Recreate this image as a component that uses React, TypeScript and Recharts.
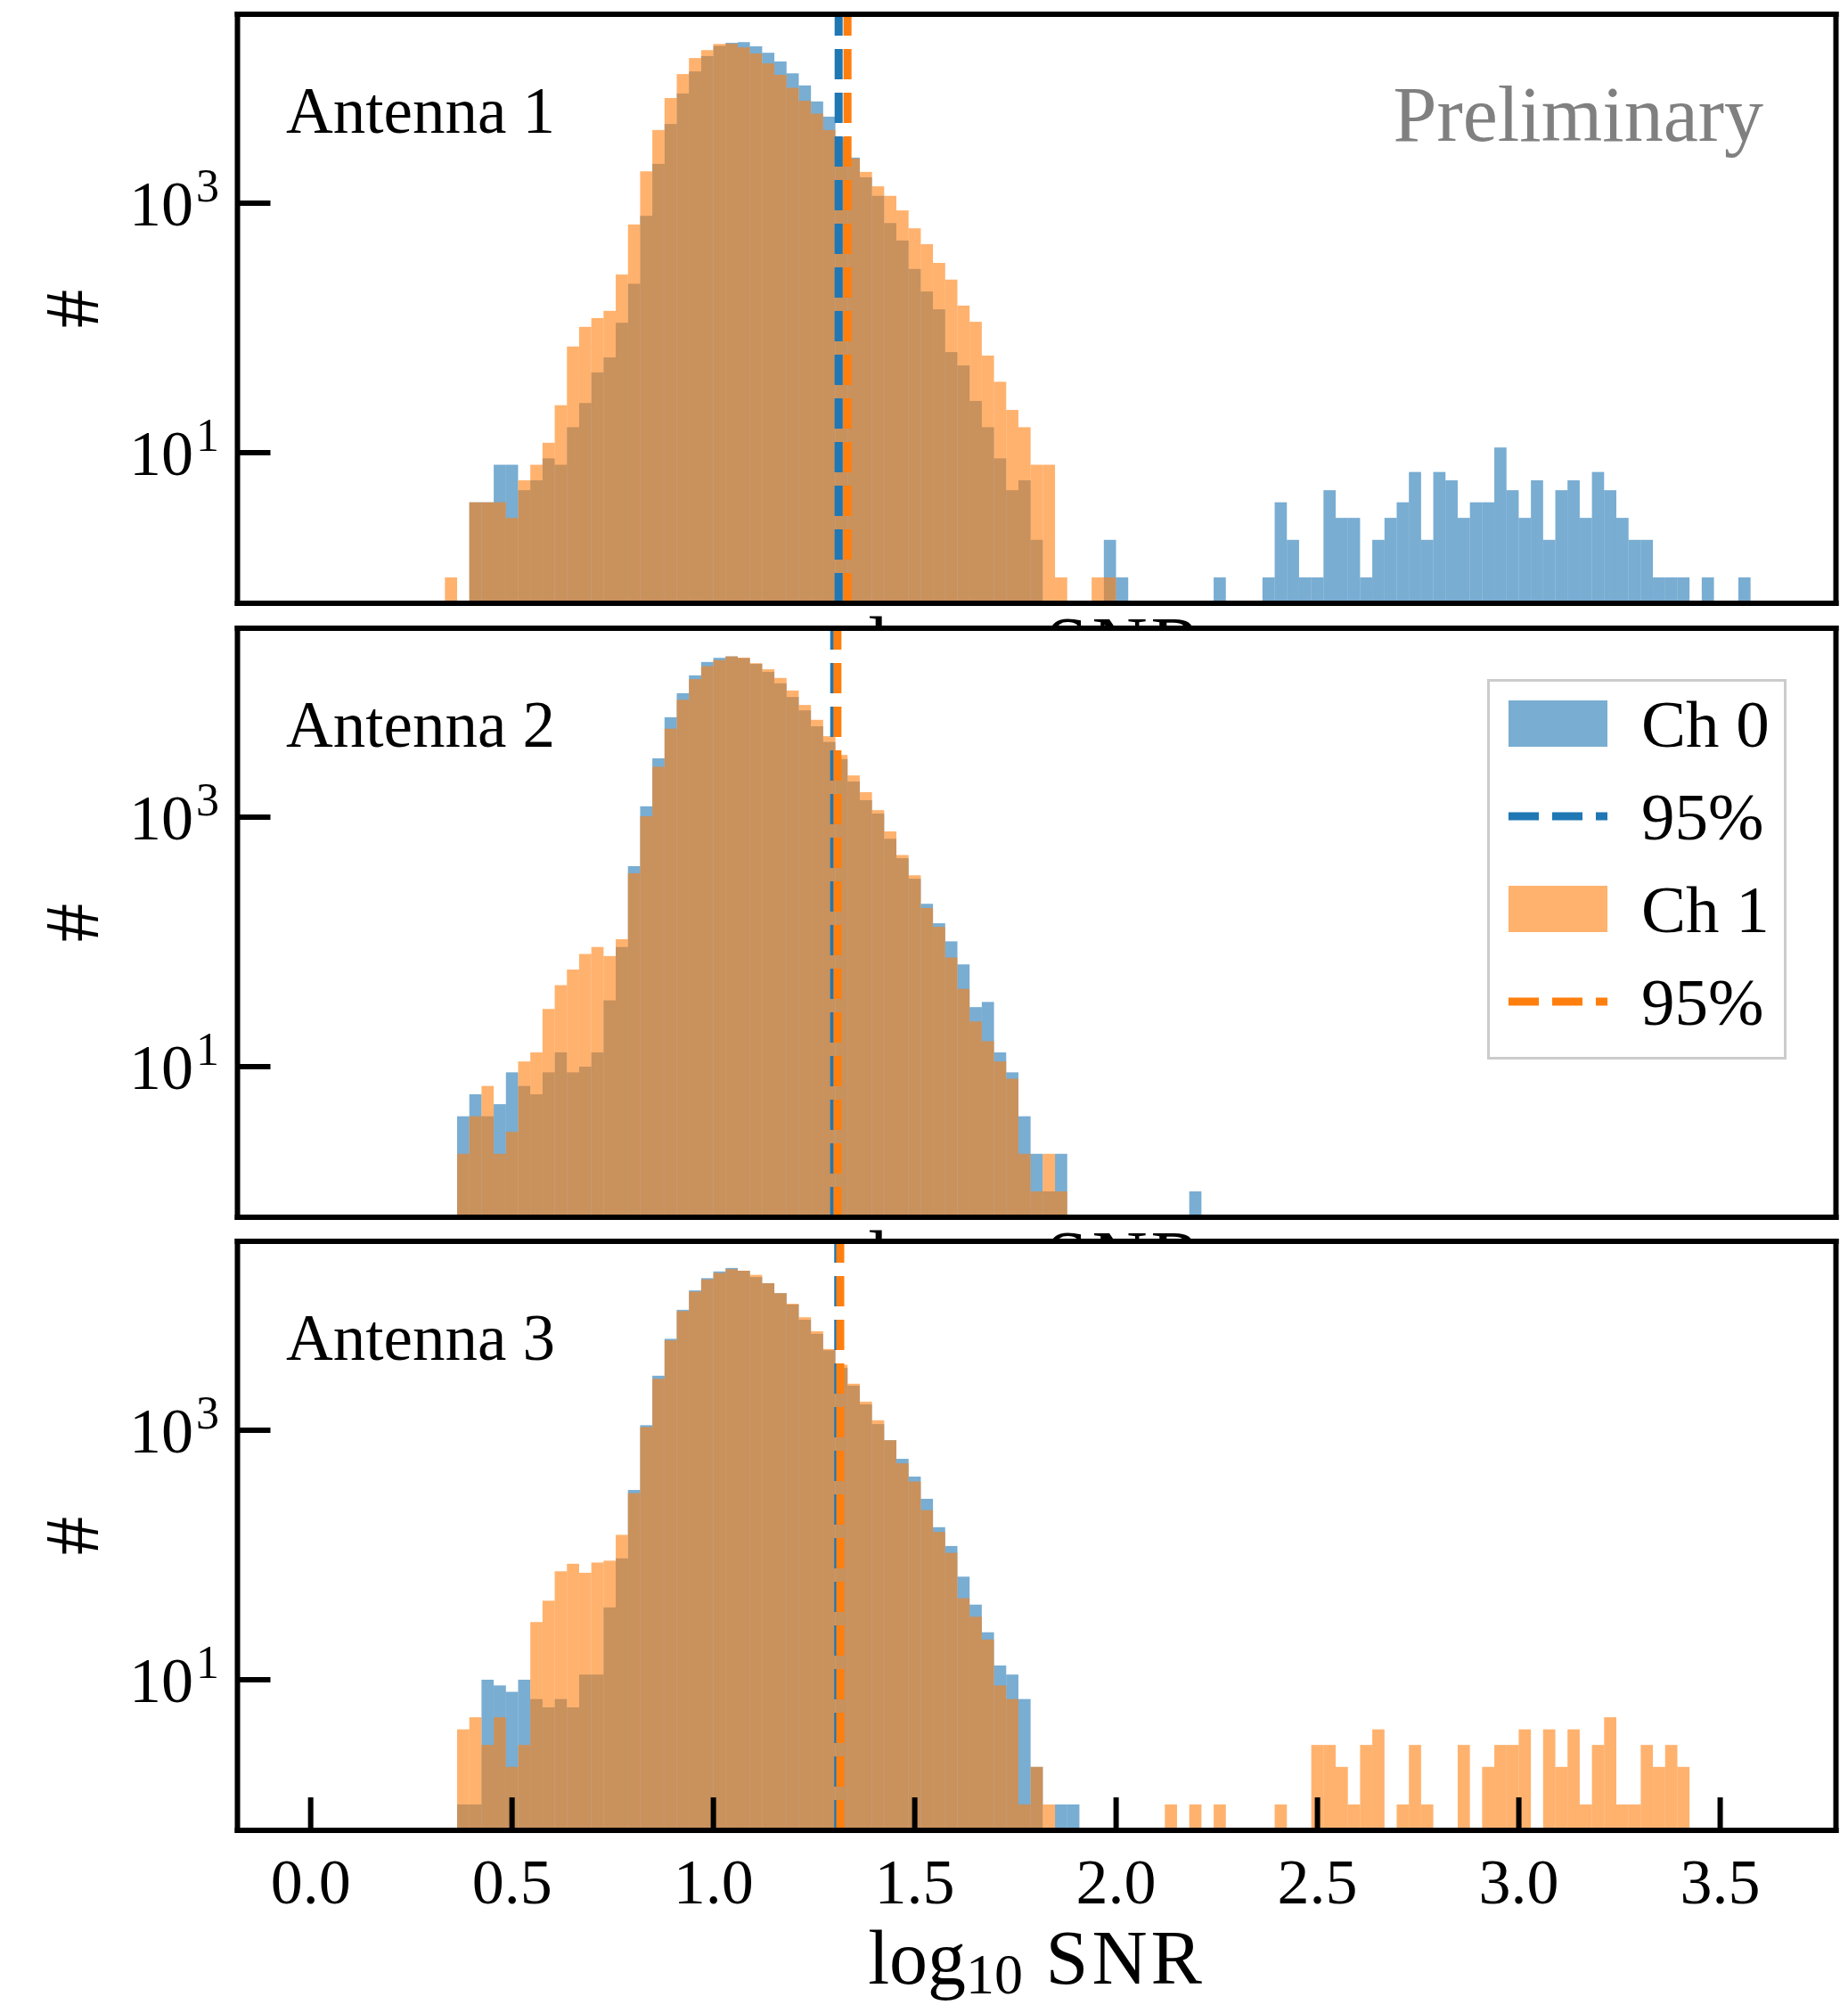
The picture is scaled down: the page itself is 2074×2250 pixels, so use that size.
import React from 'react';
import { ComposedChart, Bar, XAxis, YAxis, ReferenceLine, CartesianGrid, Legend } from 'recharts';

// ---------------------------------------------------------------------------
// Histogram data: counts per log10(SNR) bin. Bin k covers [k*BIN_WIDTH, (k+1)*BIN_WIDTH).
// Every count array starts at bin FIRST_BIN.
// ---------------------------------------------------------------------------
const BIN_WIDTH = 0.0303;
const FIRST_BIN = 11;
const AXIS_FIRST_BIN = -6;
const AXIS_LAST_BIN = 124;

const xTickValues = [0, 0.5, 1, 1.5, 2, 2.5, 3, 3.5];
const yTickValues = [10, 1000];
const panelTitles = ['Antenna 1', 'Antenna 2', 'Antenna 3'];
const channelNames = ['Ch 0', 'Ch 1'];
const quantileLabel = '95%';
const watermark = 'Preliminary';

// Antenna 1
const ant1Ch0 = [
  0, 0, 4, 4, 8, 8, 5, 6, 9, 8,
  16, 25, 44, 58, 110, 226, 792, 2066, 4315, 7570,
  11380, 15100, 18240, 19300, 19550, 18100, 16070, 13670, 10990, 8790,
  6540, 4940, 3400, 2320, 1614, 1145, 693, 502, 297, 196,
  141, 64, 50, 26, 16, 9, 5, 6, 2, 0,
  0, 0, 0, 0, 2, 1, 0, 0, 0, 0,
  0, 0, 0, 1, 0, 0, 0, 1, 4, 2,
  1, 1, 5, 3, 3, 1, 2, 3, 4, 7,
  2, 7, 6, 3, 4, 4, 11, 5, 3, 6,
  2, 5, 6, 3, 7, 5, 3, 2, 2, 1,
  1, 1, 0, 1, 0, 0, 1,
];
const ant1Ch1 = [
  1, 0, 4, 4, 4, 3, 6, 8, 12, 24,
  71, 102, 120, 137, 268, 675, 1800, 3860, 6966, 10840,
  14580, 16870, 18900, 19000, 17740, 15850, 13200, 10690, 8410, 6620,
  5220, 3860, 3130, 2280, 1782, 1365, 1145, 875, 629, 469,
  332, 244, 151, 112, 60, 37, 22, 16, 8, 8,
  1, 0, 0, 1, 1, 0, 0, 0, 0, 0,
];
const ant1Q95 = [1.311, 1.333];

// Antenna 2
const ant2Ch0 = [
  0, 4, 6, 4, 5, 9, 7, 6, 9, 13,
  9, 10, 13, 34, 91, 405, 1222, 2960, 6325, 9860,
  13700, 17540, 18930, 19450, 18850, 16930, 14600, 11830, 9190, 7180,
  5350, 4010, 2920, 1930, 1368, 1068, 671, 469, 321, 202,
  141, 101, 66, 30, 33, 13, 9, 4, 2, 1,
  2, 0, 0, 0, 0, 0, 0, 0, 0, 0,
  0, 1,
];
const ant2Ch1 = [
  0, 2, 4, 7, 2, 3, 11, 13, 29, 45,
  60, 80, 91, 77, 105, 355, 1016, 2535, 5120, 8730,
  12770, 16220, 18160, 19450, 19000, 17140, 15330, 13060, 10360, 7930,
  6030, 4460, 3155, 2160, 1585, 1138, 769, 497, 342, 187,
  132, 75, 42, 23, 16, 11, 8, 2, 1, 2,
  1,
];
const ant2Q95 = [1.3, 1.308];

// Antenna 3
const ant3Ch0 = [
  0, 1, 1, 10, 9, 8, 10, 7, 6, 7,
  6, 11, 11, 38, 94, 332, 1097, 2735, 5405, 9230,
  13210, 16560, 18750, 20000, 19000, 16900, 15100, 12560, 10190, 7690,
  5930, 4380, 3170, 2275, 1614, 1120, 832, 590, 425, 282,
  167, 118, 67, 40, 24, 13, 11, 7, 2, 0,
  1, 1,
];
const ant3Ch1 = [
  0, 4, 5, 3, 5, 2, 3, 29, 43, 74,
  85, 72, 87, 90, 145, 313, 1060, 2585, 5260, 9030,
  12910, 16200, 18240, 19550, 19000, 17600, 15100, 12560, 10330, 8050,
  6220, 4480, 3350, 2360, 1694, 1202, 832, 543, 388, 229,
  153, 104, 45, 32, 21, 9, 7, 1, 2, 1,
  0, 0, 0, 0, 0, 0, 0, 0, 0, 1,
  0, 1, 0, 1, 0, 0, 0, 0, 1, 0,
  0, 3, 3, 2, 1, 3, 4, 0, 1, 3,
  1, 0, 0, 3, 0, 2, 3, 3, 4, 0,
  4, 2, 4, 1, 3, 5, 1, 1, 3, 2,
  3, 2,
];
const ant3Q95 = [1.31, 1.315];

// ---------------------------------------------------------------------------
// Layout and style
// ---------------------------------------------------------------------------
const PAGE_W = 2074;
const PAGE_H = 2250;
const PLOT_L = 266.5;
const PLOT_R = 2060.5;
const PLOT_W = PLOT_R - PLOT_L;
const PANEL_TOPS = [16, 705, 1393];
const PANEL_H = 661;
const N_BANDS = AXIS_LAST_BIN - AXIS_FIRST_BIN + 1;
const BAND_W = PLOT_W / N_BANDS;
const X_DOMAIN: [number, number] = [AXIS_FIRST_BIN * BIN_WIDTH, (AXIS_LAST_BIN + 1) * BIN_WIDTH];
const Y_DOMAIN: [number, number] = [0.62, 32700];

const FONT = '"Liberation Serif", "Times New Roman", serif';
const BLUE = '#1f77b4';
const ORANGE = '#ff7f0e';
const FILL_ALPHA = 0.6;
const SPINE_W = 6;
const TICK_LEN = 37;
const spineStyle = { stroke: '#000', strokeWidth: SPINE_W, strokeLinecap: 'square' as const };
const tickStyle = { stroke: '#000', strokeWidth: SPINE_W };

type Row = { bin: number; snr: number; ch0: number | null; ch1: number | null };

function buildRows(ch0: number[], ch1: number[]): Row[] {
  const rows: Row[] = [];
  for (let k = AXIS_FIRST_BIN; k <= AXIS_LAST_BIN; k++) {
    const i = k - FIRST_BIN;
    const a = i >= 0 && i < ch0.length ? ch0[i] : 0;
    const b = i >= 0 && i < ch1.length ? ch1[i] : 0;
    rows.push({ bin: k, snr: (k + 0.5) * BIN_WIDTH, ch0: a > 0 ? a : null, ch1: b > 0 ? b : null });
  }
  return rows;
}

// one histogram bin: spans the whole category band of its bin
const HistRect = (props: any) => {
  const { x, y, height, fill } = props;
  if (!(height > 0) || !Number.isFinite(y) || !Number.isFinite(x)) return <g />;
  return <rect x={x} y={y} width={BAND_W} height={height} fill={fill} fillOpacity={FILL_ALPHA} />;
};

const XTickLabel = (p: any) => (
  <text x={p.x} y={p.y} textAnchor="middle" fontFamily={FONT} fontSize={72} fill="#000">
    {Number(p.payload.value).toFixed(1)}
  </text>
);

const YTickLabel = (p: any) => {
  const exp = Math.round(Math.log10(p.payload.value));
  return (
    <text x={p.x} y={p.y + 25} textAnchor="end" fontFamily={FONT} fontSize={72} fill="#000">
      <tspan>10</tspan>
      <tspan dx={3} dy={-27} fontSize={52}>{exp}</tspan>
    </text>
  );
};

const legendRows = [
  { kind: 'patch', color: BLUE, label: channelNames[0] },
  { kind: 'line', color: BLUE, label: quantileLabel },
  { kind: 'patch', color: ORANGE, label: channelNames[1] },
  { kind: 'line', color: ORANGE, label: quantileLabel },
];

const LEGEND_BOX = { left: 1669, top: 762, width: 336, height: 427 };

const LegendBox = () => (
  <svg width={LEGEND_BOX.width} height={LEGEND_BOX.height} style={{ display: 'block' }}>
    <rect x={1.5} y={1.5} width={LEGEND_BOX.width - 3} height={LEGEND_BOX.height - 3} fill="#fff" stroke="#cccccc" strokeWidth={3} />
    {legendRows.map((r, i) => {
      const cy = 50 + i * 104;
      return (
        <g key={i}>
          {r.kind === 'patch' ? (
            <rect x={24} y={cy - 26} width={111} height={52} fill={r.color} fillOpacity={FILL_ALPHA} />
          ) : (
            <line x1={24} x2={135} y1={cy} y2={cy} stroke={r.color} strokeWidth={9} strokeDasharray="34 15" />
          )}
          <text x={173} y={cy + 26} fontFamily={FONT} fontSize={75} fill="#000">{r.label}</text>
        </g>
      );
    })}
  </svg>
);

type PanelProps = {
  index: number;
  ch0: number[];
  ch1: number[];
  q95: number[];
  last: boolean;
};

function Panel({ index, ch0, ch1, q95, last }: PanelProps) {
  const top = PANEL_TOPS[index];
  const bottom = top + PANEL_H;
  const rows = buildRows(ch0, ch1);
  const midY = top + PANEL_H / 2;
  const labelBaseline = last ? bottom + 172 : bottom + 75;
  return (
    <ComposedChart
      width={PAGE_W}
      height={PAGE_H}
      data={rows}
      barCategoryGap={0}
      barGap={0}
      margin={{ top: top - 1, bottom: PAGE_H - bottom - 1, left: PLOT_L - 1, right: PAGE_W - PLOT_R - 1 }}
    >
      <CartesianGrid xAxisId="snr" yAxisId="y" horizontal={false} vertical={false} fill="#ffffff" fillOpacity={1} />
      <XAxis xAxisId="bins0" dataKey="bin" type="category" hide height={0} />
      <XAxis xAxisId="bins1" dataKey="bin" type="category" hide height={0} />

      <Bar xAxisId="bins0" yAxisId="y" dataKey="ch0" name={channelNames[0]} fill={BLUE} isAnimationActive={false} shape={HistRect} />
      <Bar xAxisId="bins1" yAxisId="yr" dataKey="ch1" name={channelNames[1]} fill={ORANGE} isAnimationActive={false} shape={HistRect} />

      <ReferenceLine xAxisId="snr" yAxisId="y" x={q95[0]} stroke={BLUE} strokeWidth={9} strokeDasharray="34 15" ifOverflow="visible" />
      <ReferenceLine xAxisId="snr" yAxisId="y" x={q95[1]} stroke={ORANGE} strokeWidth={9} strokeDasharray="34 15" ifOverflow="visible" />

      <XAxis
        xAxisId="snr"
        dataKey="snr"
        type="number"
        orientation="bottom"
        domain={X_DOMAIN}
        allowDataOverflow
        ticks={xTickValues}
        interval={0}
        height={1}
        tickSize={-TICK_LEN}
        tickMargin={TICK_LEN + 82}
        axisLine={spineStyle}
        tickLine={tickStyle}
        tick={last ? XTickLabel : false}
      />
      <XAxis
        xAxisId="top"
        dataKey="snr"
        type="number"
        orientation="top"
        domain={X_DOMAIN}
        allowDataOverflow
        ticks={xTickValues}
        interval={0}
        height={1}
        tickSize={-TICK_LEN}
        axisLine={spineStyle}
        tickLine={tickStyle}
        tick={false}
      />
      <YAxis
        yAxisId="y"
        scale="log"
        domain={Y_DOMAIN}
        allowDataOverflow
        ticks={yTickValues}
        interval={0}
        width={1}
        tickSize={-TICK_LEN}
        tickMargin={PLOT_L + TICK_LEN - 246}
        axisLine={spineStyle}
        tickLine={tickStyle}
        tick={YTickLabel}
      />
      <YAxis
        yAxisId="yr"
        orientation="right"
        scale="log"
        domain={Y_DOMAIN}
        allowDataOverflow
        ticks={yTickValues}
        interval={0}
        width={1}
        tickSize={-TICK_LEN}
        axisLine={spineStyle}
        tickLine={tickStyle}
        tick={false}
      />

      <text x={321} y={top + 133} fontFamily={FONT} fontSize={73} fill="#000">{panelTitles[index]}</text>
      {index === 0 && (
        <text x={1979} y={top + 142} textAnchor="end" fontFamily={FONT} fontSize={88} fill="#808080">{watermark}</text>
      )}
      <text
        x={110}
        y={midY}
        transform={`rotate(-90 110 ${midY})`}
        textAnchor="middle"
        fontFamily={FONT}
        fontSize={86}
        fill="#000"
      >
        #
      </text>
      <text x={(PLOT_L + PLOT_R) / 2} y={labelBaseline} textAnchor="middle" fontFamily={FONT} fontSize={86} fill="#000">
        <tspan>log</tspan>
        <tspan dy={11} fontSize={64}>10</tspan>
        <tspan dy={-11} letterSpacing={4}>{' SNR'}</tspan>
      </text>

      {index === 1 && (
        <Legend
          layout="vertical"
          align="center"
          verticalAlign="middle"
          wrapperStyle={{ position: 'absolute', left: LEGEND_BOX.left, top: LEGEND_BOX.top, width: LEGEND_BOX.width, height: LEGEND_BOX.height }}
          content={() => <LegendBox />}
        />
      )}
    </ComposedChart>
  );
}

const panels = [
  { ch0: ant1Ch0, ch1: ant1Ch1, q95: ant1Q95 },
  { ch0: ant2Ch0, ch1: ant2Ch1, q95: ant2Q95 },
  { ch0: ant3Ch0, ch1: ant3Ch1, q95: ant3Q95 },
];

export default function App() {
  return (
    <div style={{ position: 'absolute', left: 0, top: 0, width: PAGE_W, height: PAGE_H, background: '#fff', overflow: 'hidden' }}>
      {panels.map((p, i) => (
        <div key={i} style={{ position: 'absolute', left: 0, top: 0, width: PAGE_W, height: PAGE_H }}>
          <Panel index={i} ch0={p.ch0} ch1={p.ch1} q95={p.q95} last={i === panels.length - 1} />
        </div>
      ))}
    </div>
  );
}
